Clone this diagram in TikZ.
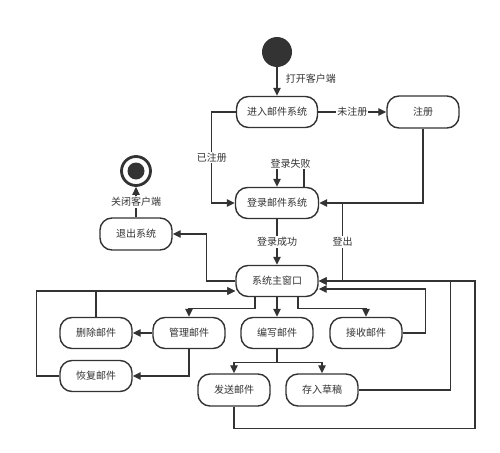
\documentclass[tikz,border=0pt]{standalone}
\usepackage{fontspec}
\newfontfamily\cjk{Noto Sans CJK SC}
\usetikzlibrary{arrows.meta}
\definecolor{ink}{HTML}{333333}
\begin{document}
\begin{tikzpicture}[x=1pt, y=-1pt,
      every node/.style={font=\cjk\fontsize{10}{12}\selectfont, text=ink},
      state/.style={draw=ink, line width=1.4pt, rounded corners=12pt, fill=white,
        minimum width=72pt, minimum height=31pt, inner sep=2pt},
      arr/.style={draw=ink, line width=1.3pt, -{Triangle[length=8pt,width=7.5pt]}},
      ln/.style={draw=ink, line width=1.3pt},
      lbl/.style={fill=white, inner sep=1pt},
    ]
    \useasboundingbox (0,0) rectangle (500,452);

    % start / end
    \node[circle, fill=ink, minimum size=30pt, inner sep=0pt] (start) at (277,52) {};
    \node[circle, draw=ink, line width=2.8pt, minimum size=29pt, inner sep=0pt] (stop) at (136,171) {};
    \fill[ink] (stop.center) circle (8.5pt);

    % states
    \node[state, minimum width=81pt] (enter) at (277,112) {进入邮件系统};
    \node[state, minimum height=32pt] (register) at (423,112) {注册};
    \node[state, minimum width=83pt] (login) at (277,203) {登录邮件系统};
    \node[state, minimum width=82pt] (mainwin) at (277,281) {系统主窗口};
    \node[state, minimum height=32pt] (quit) at (136,234) {退出系统};

    \node[state] (delete)  at (96,333)  {删除邮件};
    \node[state] (manage)  at (189,333) {管理邮件};
    \node[state] (compose) at (277,333) {编写邮件};
    \node[state] (receive) at (366,333) {接收邮件};
    \node[state] (restore) at (96,376)  {恢复邮件};
    \node[state, minimum height=32pt] (send)  at (234,390) {发送邮件};
    \node[state, minimum height=32pt] (draft) at (322,390) {存入草稿};

    % top part
    \draw[arr] (start) -- node[right=5pt, pos=0.4] {打开客户端} (enter);
    \draw[arr] (enter) -- node[lbl] {未注册} (register);
    \draw[arr] (enter.west) -- ++(-24,0) |- node[lbl, pos=0.25] {已注册} (login.west);
    \draw[arr] ([xshift=27pt]login.north) -- ++(0,-23) -| node[lbl, pos=0.25] {登录失败} (login.north);
    \draw[arr] (register.south) |- (login.east);
    \draw[ln] (mainwin.east) ++(24,0) coordinate (lo) -- node[lbl] {登出} (lo |- login.east);
    \draw[arr] (login) -- node[lbl] {登录成功} (mainwin);
    \draw[arr] (mainwin.west) -- ++(-29,0) |- (quit.east);
    \draw[arr] (quit) -- node[lbl] {关闭客户端} (stop);

    % main window children
    \draw[arr] ([xshift=-22pt]mainwin.south) -- ++(0,11) -| (manage.north);
    \draw[arr] (mainwin) -- (compose);
    \draw[arr] ([xshift=21pt]mainwin.south) -- ++(0,11) -| (receive.north);
    \draw[arr] (manage) -- (delete);
    \draw[arr] (manage.south) |- (restore.east);
    \draw[arr] (compose.south) -- ++(0,13) -| (send.north);
    \draw[arr] (compose.south) -- ++(0,13) -| (draft.north);

    % back to main window
    \draw[arr] (delete.north) |- ([yshift=-10pt]mainwin.west);
    \draw[arr] (restore.west) -- ++(-23,0) |- ([yshift=-10pt]mainwin.west);
    \draw[arr] (receive.east) -- ++(23,0) |- ([yshift=-8pt]mainwin.east);
    \draw[arr] (draft.east) -- ++(92,0) |- (mainwin.east);
    \draw[arr] (send.south) -- ++(0,22) -- ++(241,0) |- (mainwin.east);
  \end{tikzpicture}
\end{document}
